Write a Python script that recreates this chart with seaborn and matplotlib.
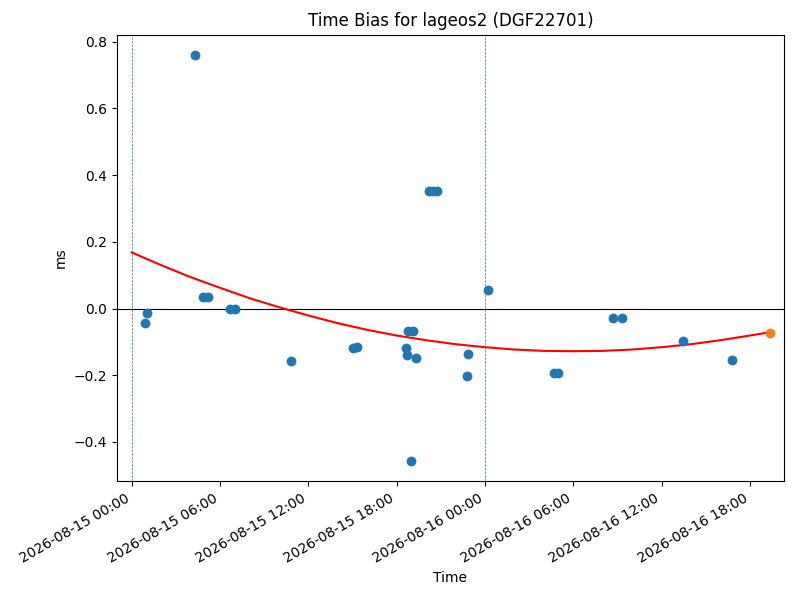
import matplotlib
matplotlib.use("Agg")
import matplotlib.dates as mdates
import matplotlib.pyplot as plt
import numpy as np
import pandas as pd
import seaborn as sns

# Observation times (hours after 2026-08-15 00:00) and time bias in ms
obs_hours = [0.88, 1.03, 4.28, 4.83, 5.17, 6.66, 7.0, 10.82, 15.0, 15.3,
             18.65, 18.72, 18.78, 18.99, 19.08, 19.28, 20.2, 20.45, 20.72,
             22.8, 22.86, 24.22, 28.7, 28.95, 32.72, 33.29, 37.48, 40.81]
obs_bias = [-0.043, -0.013, 0.760, 0.035, 0.035, -0.001, -0.001, -0.157,
            -0.117, -0.114, -0.118, -0.138, -0.068, -0.457, -0.068, -0.148,
            0.352, 0.352, 0.352, -0.202, -0.136, 0.057, -0.193, -0.193,
            -0.028, -0.028, -0.097, -0.154]

# Fitted curve values
fit_hours = [0, 2, 4, 6, 8, 10, 12, 14, 16, 18, 20, 22, 24, 26, 28, 30,
             32, 34, 36, 38, 40, 42, 43.4]
fit_bias = [0.168, 0.130, 0.094, 0.062, 0.031, 0.004, -0.021, -0.044,
            -0.064, -0.081, -0.095, -0.107, -0.116, -0.123, -0.127, -0.128,
            -0.127, -0.123, -0.116, -0.107, -0.095, -0.081, -0.071]

# Predicted point at the end of the fit
pred_hours = [43.4]
pred_bias = [-0.072]

# Day boundaries
day_marks = ["2026-08-15 00:00", "2026-08-16 00:00"]

t0 = pd.Timestamp("2026-08-15 00:00")
obs = pd.DataFrame({"Time": t0 + pd.to_timedelta(obs_hours, unit="h"), "ms": obs_bias})
fit = pd.DataFrame({"Time": t0 + pd.to_timedelta(fit_hours, unit="h"), "ms": fit_bias})
pred = pd.DataFrame({"Time": t0 + pd.to_timedelta(pred_hours, unit="h"), "ms": pred_bias})

fig, ax = plt.subplots(figsize=(8, 6), dpi=100)

for d in day_marks:
    ax.axvline(pd.Timestamp(d), color="C0", linestyle="--", linewidth=0.5)
ax.axhline(0, color="black", linewidth=0.8)

sns.scatterplot(data=obs, x="Time", y="ms", ax=ax, color="C0", s=50, linewidth=0, zorder=3)
sns.lineplot(data=fit, x="Time", y="ms", ax=ax, color="red", linewidth=1.5, zorder=2)
sns.scatterplot(data=pred, x="Time", y="ms", ax=ax, color="C1", s=50, linewidth=0, zorder=4)

ax.set_xlim(t0 - pd.Timedelta(hours=1.02), t0 + pd.Timedelta(hours=44.32))
ax.xaxis.set_major_locator(mdates.HourLocator(byhour=[0, 6, 12, 18]))
ax.xaxis.set_major_formatter(mdates.DateFormatter("%Y-%m-%d %H:%M"))
ax.set_title("Time Bias for lageos2 (DGF22701)")
ax.set_xlabel("Time")
ax.set_ylabel("ms")
fig.autofmt_xdate()
fig.subplots_adjust(left=0.146, right=0.98, top=0.942, bottom=0.198)
fig.savefig("out.png")
